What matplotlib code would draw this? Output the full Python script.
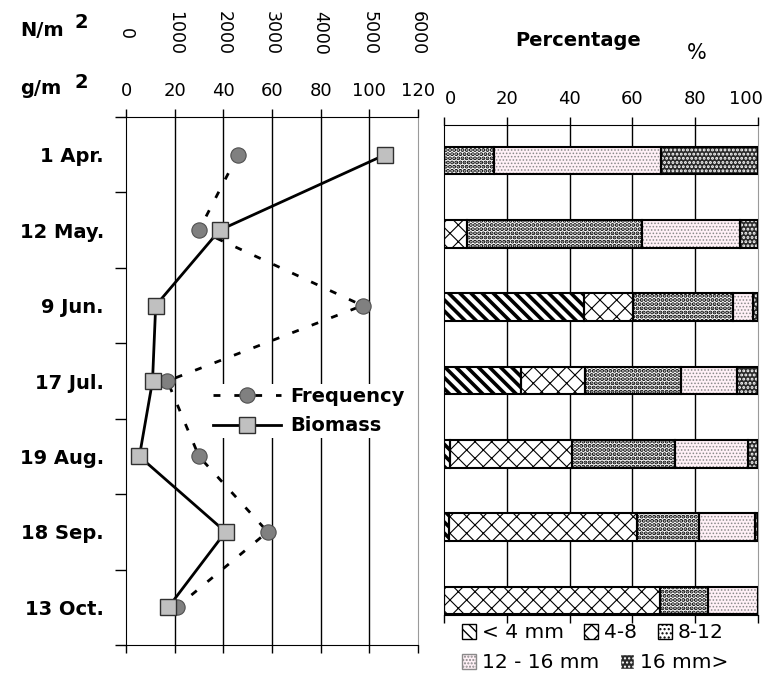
import numpy as np
import matplotlib
matplotlib.use("Agg")
import matplotlib.pyplot as plt
from matplotlib.patches import Patch
from matplotlib.lines import Line2D
import matplotlib.transforms as mtransforms

plt.rcParams['font.family'] = ['DejaVu Sans']

# data
dates = ['1 Apr.', '12 May.', '9 Jun.', '17 Jul.', '19 Aug.', '18 Sep.', '13 Oct.']
biomass = [106.5, 38.5, 12.2, 10.9, 5.5, 40.9, 17.4]        # g/m2
frequency = [2300, 1500, 4860, 850, 1500, 2910, 1040]      # N/m2
g_ticks = [0, 20, 40, 60, 80, 100, 120]
n_ticks = [0, 1000, 2000, 3000, 4000, 5000, 6000]
N_PER_G = 50  # 6000 N/m2 sits on 120 g/m2

size_classes = ['< 4 mm', '4-8', '8-12', '12 - 16 mm', '16 mm>']
lt4 = [0, 0, 44.6, 24.4, 1.9, 1.6, 0]
r4_8 = [0, 7.2, 15.7, 20.5, 39.0, 59.8, 68.8]
r8_12 = [15.9, 56.0, 31.6, 30.5, 32.8, 19.9, 15.2]
r12_16 = [53.2, 31.1, 6.6, 17.8, 23.1, 17.7, 16.0]
gt16 = [30.9, 5.7, 1.5, 6.8, 3.2, 1.0, 0]
pct_ticks = [0, 20, 40, 60, 80, 100]

# face, hatch, hatch colour, hatch linewidth
styles = [
    ('white', '\\\\\\', 'black', 2.6),
    ('white', 'xx', 'black', 0.8),
    ('white', '....', 'black', 2.0),
    ('#fff0f6', '.....', '#8a8a8a', 0.7),
    ('#2a2a2a', '....', 'white', 1.4),
]

W, H = 768, 675
fig = plt.figure(figsize=(W / 100, H / 100), dpi=100)


def px_axes(x0, y0, x1, y1):
    return fig.add_axes([x0 / W, 1 - y1 / H, (x1 - x0) / W, (y1 - y0) / H])


def shift_label(lbl, dx):
    lbl.set_transform(lbl.get_transform() +
                      mtransforms.ScaledTranslation(dx / 100, 0, fig.dpi_scale_trans))


# ---------------- left panel ----------------
ax = px_axes(126, 117, 418, 645)
y = np.arange(len(dates))
ax.set_xlim(0, 120)
ax.set_ylim(len(dates) - 0.5, -0.5)
for g in g_ticks[1:-1]:
    ax.axvline(g, color='black', lw=1, zorder=1)

freq_x = [f / N_PER_G for f in frequency]
ax.plot(freq_x, y, ls=(0, (2.5, 5)), color='black', lw=2, marker='o', ms=11,
        mfc='#808080', mec='#505050', mew=0.8, zorder=3)
ax.plot(biomass, y, ls='-', color='black', lw=2, marker='s', ms=11,
        mfc='#c0c0c0', mec='#303030', mew=1, zorder=4)

ax.set_xticks(g_ticks)
ax.set_xticklabels([str(g) for g in g_ticks], fontsize=13)
ax.tick_params(axis='x', top=True, bottom=True, labeltop=True, labelbottom=False,
               direction='out', length=6, width=1, pad=6)
ax.set_yticks(y)
ax.set_yticklabels(dates, fontsize=14, fontweight='bold')
ax.tick_params(axis='y', which='major', length=0, pad=16)
ax.set_yticks(np.arange(-0.5, len(dates) + 0.5, 1), minor=True)
ax.tick_params(axis='y', which='minor', length=8, width=1, direction='out')
ax.spines['right'].set_color('#9a9a9a')

# N/m2 labels (rotated) above the g/m2 scale
blend = mtransforms.blended_transform_factory(ax.transData, fig.transFigure)
for n in n_ticks:
    ax.text(n / N_PER_G, 1 - 33 / H, str(n), transform=blend, rotation=-90,
            ha='center', va='center', fontsize=12.5)

fig.text(20 / W, 1 - 31 / H, 'N/m', fontsize=14, fontweight='bold', va='center')
fig.text(75 / W, 1 - 23 / H, '2', fontsize=14, fontweight='bold', va='center')
fig.text(20 / W, 1 - 89 / H, 'g/m', fontsize=14, fontweight='bold', va='center')
fig.text(75 / W, 1 - 82 / H, '2', fontsize=14, fontweight='bold', va='center')

handles = [
    Line2D([], [], ls=(0, (2.5, 5)), color='black', lw=2, marker='o', ms=11,
           mfc='#808080', mec='#505050', mew=0.8),
    Line2D([], [], ls='-', color='black', lw=2, marker='s', ms=11,
           mfc='#c0c0c0', mec='#303030', mew=1),
]
leg = ax.legend(handles, ['Frequency', 'Biomass'], loc='center',
                bbox_to_anchor=(309 / W, 1 - 411 / H), bbox_transform=fig.transFigure,
                prop={'size': 14, 'weight': 'bold'}, handlelength=3.5,
                handletextpad=0.5, labelspacing=0.55, borderpad=0.15,
                frameon=True, fancybox=False, framealpha=1, edgecolor='none')
leg.set_zorder(5)

# ---------------- right panel ----------------
bx = px_axes(444, 125, 758, 615)
bx.set_xlim(0, 100)
bx.set_ylim(6.198, -0.484)
for p in pct_ticks[1:-1]:
    bx.axvline(p, color='black', lw=1, zorder=1)

segments = [lt4, r4_8, r8_12, r12_16, gt16]
left = np.zeros(len(dates))
for vals, (face, hatch, hcol, hlw) in zip(segments, styles):
    vals = np.array(vals)
    with plt.rc_context({'hatch.linewidth': hlw}):
        bars = bx.barh(y, vals, left=left, height=0.38, color=face, hatch=hatch,
                       edgecolor=hcol, lw=0, zorder=2)
        for b in bars:
            if hasattr(b, 'set_hatch_linewidth'):
                b.set_hatch_linewidth(hlw)
    bx.barh(y, vals, left=left, height=0.38, fill=False, edgecolor='black',
            lw=1.5, zorder=3)
    left += vals

bx.set_xticks(pct_ticks)
bx.set_xticklabels([str(p) for p in pct_ticks], fontsize=13)
bx.tick_params(axis='x', top=True, bottom=True, labeltop=True, labelbottom=False,
               direction='out', length=6, width=1, pad=6)
bx.set_yticks([])
bx.spines['right'].set_color('#9a9a9a')
xl = bx.get_xticklabels()
shift_label(xl[0], 6)
shift_label(xl[-1], -12)

fig.text(515 / W, 1 - 40 / H, 'Percentage', fontsize=14, fontweight='bold', va='center')
fig.text(687 / W, 1 - 53 / H, '%', fontsize=15, va='center')

patches = []
for (face, hatch, hcol, hlw) in styles:
    with plt.rc_context({'hatch.linewidth': min(hlw, 1.2)}):
        pt = Patch(facecolor=face, hatch=hatch, edgecolor=hcol, lw=1)
    patches.append(pt)

leg_kw = dict(frameon=False, fontsize=14.5, handlelength=0.7, handleheight=0.7,
              handletextpad=0.3, columnspacing=1.0, borderpad=0, loc='center left')
fig.legend(patches[:3], size_classes[:3], ncol=3,
           bbox_to_anchor=(452 / W, 1 - 633 / H), **leg_kw)
fig.legend(patches[3:], size_classes[3:], ncol=2,
           bbox_to_anchor=(452 / W, 1 - 663 / H), **leg_kw)

fig.savefig('out.png', dpi=100)
